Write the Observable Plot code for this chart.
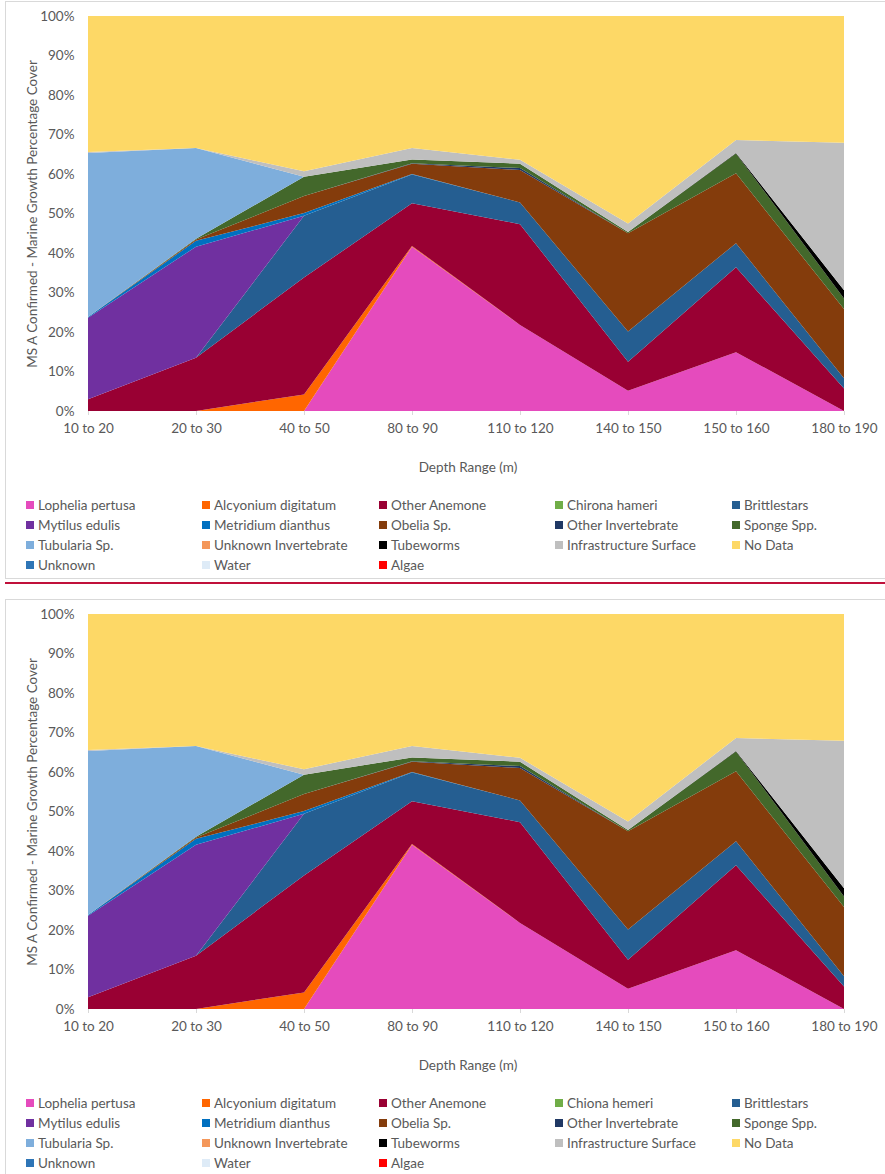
<!DOCTYPE html>
<html>
<head>
<meta charset="utf-8">
<script src="https://cdn.jsdelivr.net/npm/d3@7"></script>
<script src="https://cdn.jsdelivr.net/npm/@observablehq/plot@0.6"></script>
<style>
  html, body { margin: 0; padding: 0; background: #fff; width: 885px; height: 1174px; overflow: hidden; }
  body { position: relative; font-family: Lato, "Liberation Sans", sans-serif; color: #595959; }
  .panel { position: absolute; left: 5px; width: 884px; height: 578px; border: 1px solid #d9d9d9; box-sizing: border-box; background: #fff; overflow: hidden; }
  .panel svg { position: absolute; left: 0; top: 0; }
  .ylab { position: absolute; font-size: 13.5px; white-space: nowrap; transform: translate(-50%, -50%) rotate(-90deg); }
  .xlab { position: absolute; font-size: 13.5px; white-space: nowrap; transform: translate(-50%, -50%); }
  .leg { position: absolute; font-size: 13.5px; white-space: nowrap; display: flex; align-items: center; transform: translateY(-50%); }
  .leg i { display: inline-block; width: 8px; height: 8px; margin-right: 4px; }
  .sep { position: absolute; left: 5px; top: 582px; width: 880px; height: 2px; background: #C0103A; }
</style>
</head>
<body>
<script>
// ---- data ----
const categories = ["10 to 20", "20 to 30", "40 to 50", "80 to 90", "110 to 120", "140 to 150", "150 to 160", "180 to 190"];

const speciesTop = ["Lophelia pertusa", "Alcyonium digitatum", "Other Anemone", "Chirona hameri", "Brittlestars",
  "Mytilus edulis", "Metridium dianthus", "Obelia Sp.", "Other Invertebrate", "Sponge Spp.",
  "Tubularia Sp.", "Unknown Invertebrate", "Tubeworms", "Infrastructure Surface", "No Data",
  "Unknown", "Water", "Algae"];
const speciesBottom = ["Lophelia pertusa", "Alcyonium digitatum", "Other Anemone", "Chiona hemeri", "Brittlestars",
  "Mytilus edulis", "Metridium dianthus", "Obelia Sp.", "Other Invertebrate", "Sponge Spp.",
  "Tubularia Sp.", "Unknown Invertebrate", "Tubeworms", "Infrastructure Surface", "No Data",
  "Unknown", "Water", "Algae"];

const colors = ["#E54BBD", "#FF6600", "#990033", "#70AD47", "#255E91",
  "#7030A0", "#0070C0", "#843C0C", "#203864", "#43682B",
  "#7EAEDC", "#F4975A", "#000000", "#BFBFBF", "#FDD866",
  "#2E75B6", "#DEEBF7", "#FF0000"];

const lophelia       = [0, 0, 0, 41.6, 21.8, 5.1, 14.9, 0];
const alcyonium      = [0, 0, 4.2, 0.2, 0, 0, 0, 0];
const otherAnemone   = [3.0, 13.5, 29.6, 10.8, 25.5, 7.4, 21.5, 5.7];
const chirona        = [0, 0, 0, 0, 0, 0, 0, 0];
const brittlestars   = [0, 0, 15.6, 7.3, 5.5, 7.6, 6.1, 2.6];
const mytilus        = [20.6, 28.1, 0, 0, 0, 0, 0, 0];
const metridium      = [0.2, 1.5, 0.7, 0.1, 0, 0, 0, 0];
const obelia         = [0, 0.3, 4.3, 2.6, 8.2, 24.9, 17.7, 17.5];
const otherInvert    = [0, 0, 0, 0.1, 0.5, 0, 0, 0];
const sponge         = [0, 0.2, 4.9, 1.0, 1.1, 0.3, 5.0, 2.7];
const tubularia      = [41.5, 23.0, 0, 0, 0, 0, 0, 0];
const unknownInvert  = [0, 0, 0, 0, 0, 0, 0, 0];
const tubeworms      = [0, 0, 0, 0, 0, 0, 0.1, 2.1];
const infrastructure = [0.3, 0, 1.4, 2.9, 1.0, 2.2, 3.3, 37.3];
const noData         = [34.4, 33.4, 39.3, 33.4, 36.4, 52.5, 31.4, 32.1];
const unknown        = [0, 0, 0, 0, 0, 0, 0, 0];
const water          = [0, 0, 0, 0, 0, 0, 0, 0];
const algae          = [0, 0, 0, 0, 0, 0, 0, 0];

const seriesValues = [lophelia, alcyonium, otherAnemone, chirona, brittlestars, mytilus, metridium, obelia,
  otherInvert, sponge, tubularia, unknownInvert, tubeworms, infrastructure, noData, unknown, water, algae];

const yTicks = [0, 10, 20, 30, 40, 50, 60, 70, 80, 90, 100];
const yTitle = "MS A Confirmed - Marine Growth Percentage Cover";
const xTitle = "Depth Range (m)";

// ---- drawing ----
function drawPanel(top, species) {
  const panel = document.createElement("div");
  panel.className = "panel";
  panel.style.top = top + "px";
  document.body.appendChild(panel);

  const rows = [];
  species.forEach((s, i) => {
    categories.forEach((c, j) => rows.push({depth: c, species: s, value: seriesValues[i][j]}));
  });

  const chart = Plot.plot({
    width: 882, height: 480,
    marginLeft: 82, marginRight: 44, marginTop: 14, marginBottom: 71,
    style: {fontFamily: "Lato, 'Liberation Sans', sans-serif", fontSize: "13.5px", color: "#595959", background: "transparent"},
    x: {type: "point", domain: categories, padding: 0, label: null},
    y: {domain: [0, 100], label: null},
    color: {domain: species, range: colors},
    marks: [
      Plot.areaY(rows, Plot.stackY({x: "depth", y: "value", z: "species", fill: "species", order: species})),
      Plot.axisX({tickSize: 4, tickPadding: 8, stroke: "#d9d9d9", fill: "#595959", label: null}),
      Plot.axisY({ticks: yTicks, tickSize: 0, tickPadding: 14, tickFormat: d => d + "%", fill: "#595959", label: null})
    ]
  });
  panel.appendChild(chart);

  const yl = document.createElement("div");
  yl.className = "ylab";
  yl.textContent = yTitle;
  yl.style.left = "26px";
  yl.style.top = "212px";
  panel.appendChild(yl);

  const xl = document.createElement("div");
  xl.className = "xlab";
  xl.textContent = xTitle;
  xl.style.left = "462px";
  xl.style.top = "465px";
  panel.appendChild(xl);

  const colX = [20, 196, 373, 549, 726];
  const rowY = [503, 523, 543, 563];
  species.forEach((s, i) => {
    const d = document.createElement("div");
    d.className = "leg";
    d.style.left = colX[i % 5] + "px";
    d.style.top = rowY[Math.floor(i / 5)] + "px";
    const sw = document.createElement("i");
    sw.style.background = colors[i];
    d.appendChild(sw);
    d.appendChild(document.createTextNode(s));
    panel.appendChild(d);
  });
}

drawPanel(1, speciesTop);
const sep = document.createElement("div");
sep.className = "sep";
document.body.appendChild(sep);
drawPanel(599, speciesBottom);
</script>
</body>
</html>
